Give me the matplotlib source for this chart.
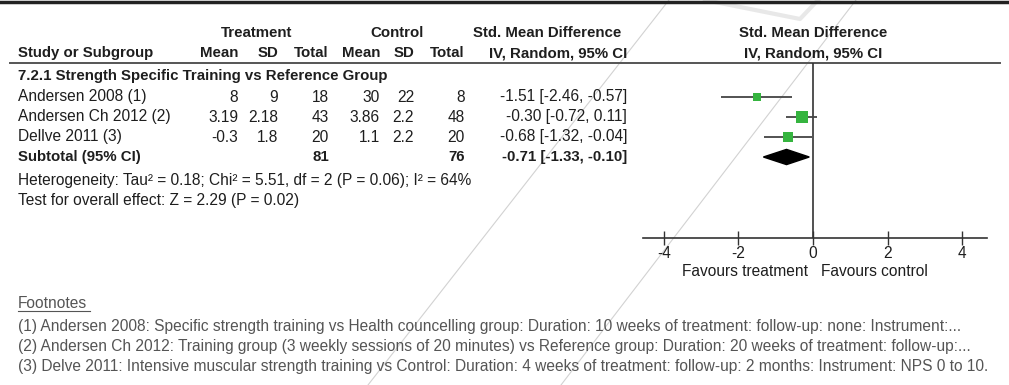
import matplotlib
matplotlib.use("Agg")
import matplotlib.pyplot as plt

plt.rcParams['font.family'] = ['Liberation Sans', 'DejaVu Sans']

# table data
studies = ["Andersen 2008 (1)", "Andersen Ch 2012 (2)", "Dellve 2011 (3)"]
treat_mean = [8, 3.19, -0.3]
treat_sd = [9, 2.18, 1.8]
treat_n = [18, 43, 20]
ctrl_mean = [30, 3.86, 1.1]
ctrl_sd = [22, 2.2, 2.2]
ctrl_n = [8, 48, 20]
smd = [-1.51, -0.30, -0.68]
ci_lo = [-2.46, -0.72, -1.32]
ci_hi = [-0.57, 0.11, -0.04]
pooled = [-0.71, -1.33, -0.10]
subgroup = "7.2.1 Strength Specific Training vs Reference Group"
heterogeneity = "Heterogeneity: Tau\u00b2 = 0.18; Chi\u00b2 = 5.51, df = 2 (P = 0.06); I\u00b2 = 64%"
overall = "Test for overall effect: Z = 2.29 (P = 0.02)"
ticks = [-4, -2, 0, 2, 4]
footnotes = [
    "(1) Andersen 2008: Specific strength training vs Health councelling group: Duration: 10 weeks of treatment: follow-up: none: Instrument:...",
    "(2) Andersen Ch 2012: Training group (3 weekly sessions of 20 minutes) vs Reference group: Duration: 20 weeks of treatment: follow-up:...",
    "(3) Delve 2011: Intensive muscular strength training vs Control: Duration: 4 weeks of treatment: follow-up: 2 months: Instrument: NPS 0 to 10.",
]

ink = "#1e1e1e"
fs = 11.2
fs_bold = 10.8

fig = plt.figure(figsize=(10.09, 3.85), dpi=100)

# overlay in pixel coords for the table text
tab = fig.add_axes([0, 0, 1, 1])
tab.set_xlim(0, 1009)
tab.set_ylim(385, 0)
tab.axis("off")

# faint watermark strokes
tab.plot([669, 368], [0, 385], color="#d2d2d2", lw=0.8)
tab.plot([856, 561], [0, 385], color="#d2d2d2", lw=0.8)
tab.plot([705, 800, 818], [0, 19, 0], color="#e8e8e8", lw=3)

# frame line at top, header rule
tab.plot([0, 1009], [1.5, 1.5], color="#222222", lw=2.5)
tab.plot([10, 1000], [63, 63], color="#555555", lw=1.4)

def t(x, y, s, ha="left", bold=False, **kw):
    tab.text(x, y, s, ha=ha, va="center", fontsize=fs_bold if bold else kw.pop("size", fs),
             fontweight="bold" if bold else "normal", color=kw.pop("color", ink), **kw)

# headers
t(257, 33, "Treatment", ha="center", bold=True)
t(397, 33, "Control", ha="center", bold=True)
t(621, 33, "Std. Mean Difference", ha="right", bold=True)
t(813, 33, "Std. Mean Difference", ha="center", bold=True)
t(18, 53, "Study or Subgroup", bold=True)
col_x = [238, 278, 329, 380, 414, 465]
for x, h in zip(col_x, ["Mean", "SD", "Total", "Mean", "SD", "Total"]):
    t(x, 53, h, ha="right", bold=True)
t(627, 53, "IV, Random, 95% CI", ha="right", bold=True)
t(813, 53, "IV, Random, 95% CI", ha="center", bold=True)

t(18, 76, subgroup, bold=True)

row_y = [97, 117, 137]
for i, name in enumerate(studies):
    y = row_y[i]
    t(18, y, name)
    vals = [treat_mean[i], treat_sd[i], treat_n[i], ctrl_mean[i], ctrl_sd[i], ctrl_n[i]]
    for x, v in zip(col_x, vals):
        t(x, y, f"{v:g}", ha="right")
    t(627, y, f"{smd[i]:.2f} [{ci_lo[i]:.2f}, {ci_hi[i]:.2f}]", ha="right")

t(18, 157, "Subtotal (95% CI)", bold=True)
t(col_x[2], 157, str(sum(treat_n)), ha="right", bold=True)
t(col_x[5], 157, str(sum(ctrl_n)), ha="right", bold=True)
t(627, 157, f"{pooled[0]:.2f} [{pooled[1]:.2f}, {pooled[2]:.2f}]", ha="right", bold=True)
t(18, 180, heterogeneity)
t(18, 200, overall)

t(808, 271, "Favours treatment", ha="right")
t(821, 271, "Favours control")

# footnotes
t(18, 304, "Footnotes", color="#555555")
tab.plot([18, 90], [311, 311], color="#555555", lw=0.8)
for k, line in enumerate(footnotes):
    t(18, 326 + 20 * k, line, color="#555555", size=11.2)

# forest plot
px0, px1, zero, unit = 643, 987, 813, 37.3
ax = fig.add_axes([px0 / 1009, 1 - 238 / 385, (px1 - px0) / 1009, (238 - 63) / 385])
ax.set_facecolor("none")
ax.set_xlim((px0 - zero) / unit, (px1 - zero) / unit)
ax.set_ylim(7.05, -1.7)
for s in ["top", "left", "right"]:
    ax.spines[s].set_visible(False)
ax.spines["bottom"].set_color("#333333")
ax.spines["bottom"].set_linewidth(1.2)
ax.set_yticks([])
ax.set_xticks(ticks)
ax.set_xticklabels([str(v) for v in ticks])
ax.tick_params(axis="x", direction="inout", length=10, width=1, color="#333333",
               labelsize=fs, labelcolor=ink, pad=1)
ax.axvline(0, color="#333333", lw=1.2)

rows = list(range(len(studies)))
ax.hlines(rows, ci_lo, ci_hi, color="#444444", lw=1.3)
box_px = [8, 12, 10]
ax.scatter(smd, rows, marker="s", s=[(b * 0.72) ** 2 for b in box_px],
           color="#35b43f", edgecolors="none", zorder=3)
r = len(studies)
ax.fill([pooled[1], pooled[0], pooled[2], pooled[0]], [r, r - 0.38, r, r + 0.38],
        color="black", zorder=3)

fig.savefig("out.png", dpi=100)
